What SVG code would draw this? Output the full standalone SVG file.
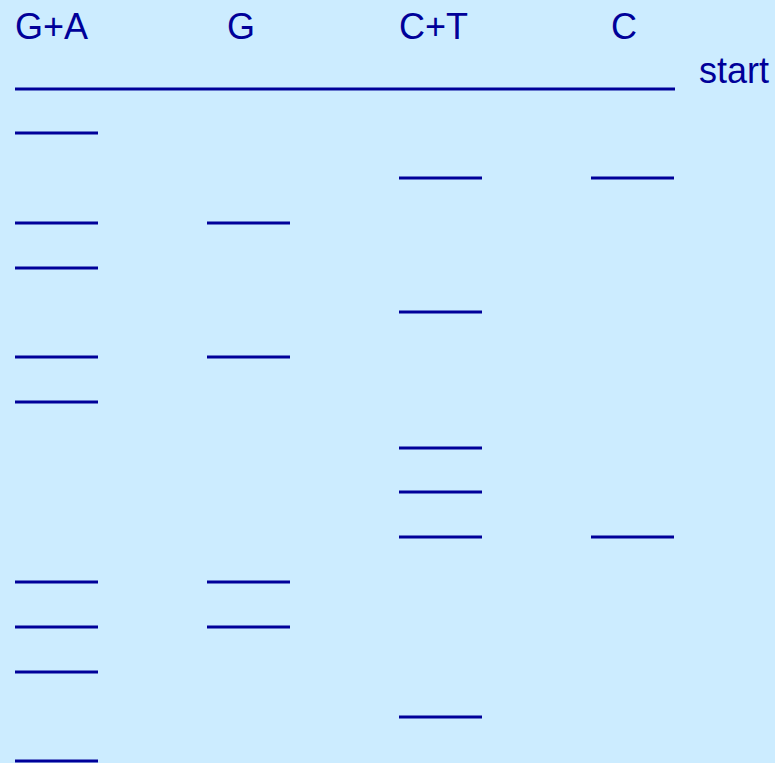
<svg xmlns="http://www.w3.org/2000/svg" width="775" height="763" viewBox="0 0 775 763">
<style>
.lbl{font-family:"Liberation Sans",Arial,sans-serif;font-size:36px;fill:#000099}
.band{stroke:#000099;stroke-width:3;fill:none}
</style>
<defs>
<line id="b" x1="0" y1="0" x2="83" y2="0" class="band"/>
</defs>
<rect x="0" y="0" width="775" height="763" fill="#CCECFF"/>
<g id="labels">
<text class="lbl" x="15" y="38.5">G+A</text>
<text class="lbl" x="227" y="38.5">G</text>
<text class="lbl" x="399" y="38.5">C+T</text>
<text class="lbl" x="611" y="38.5">C</text>
<text class="lbl" x="699" y="83">start</text>
</g>
<g id="start-line">
<line x1="15" y1="89" x2="675" y2="89" class="band"/>
</g>
<g id="lane-GA">
<use href="#b" x="15" y="133"/>
<use href="#b" x="15" y="223"/>
<use href="#b" x="15" y="268"/>
<use href="#b" x="15" y="357"/>
<use href="#b" x="15" y="402"/>
<use href="#b" x="15" y="582"/>
<use href="#b" x="15" y="627"/>
<use href="#b" x="15" y="672"/>
<use href="#b" x="15" y="761"/>
</g>
<g id="lane-G">
<use href="#b" x="207" y="223"/>
<use href="#b" x="207" y="357"/>
<use href="#b" x="207" y="582"/>
<use href="#b" x="207" y="627"/>
</g>
<g id="lane-CT">
<use href="#b" x="399" y="178"/>
<use href="#b" x="399" y="312"/>
<use href="#b" x="399" y="448"/>
<use href="#b" x="399" y="492"/>
<use href="#b" x="399" y="537"/>
<use href="#b" x="399" y="717"/>
</g>
<g id="lane-C">
<use href="#b" x="591" y="178"/>
<use href="#b" x="591" y="537"/>
</g>
</svg>
